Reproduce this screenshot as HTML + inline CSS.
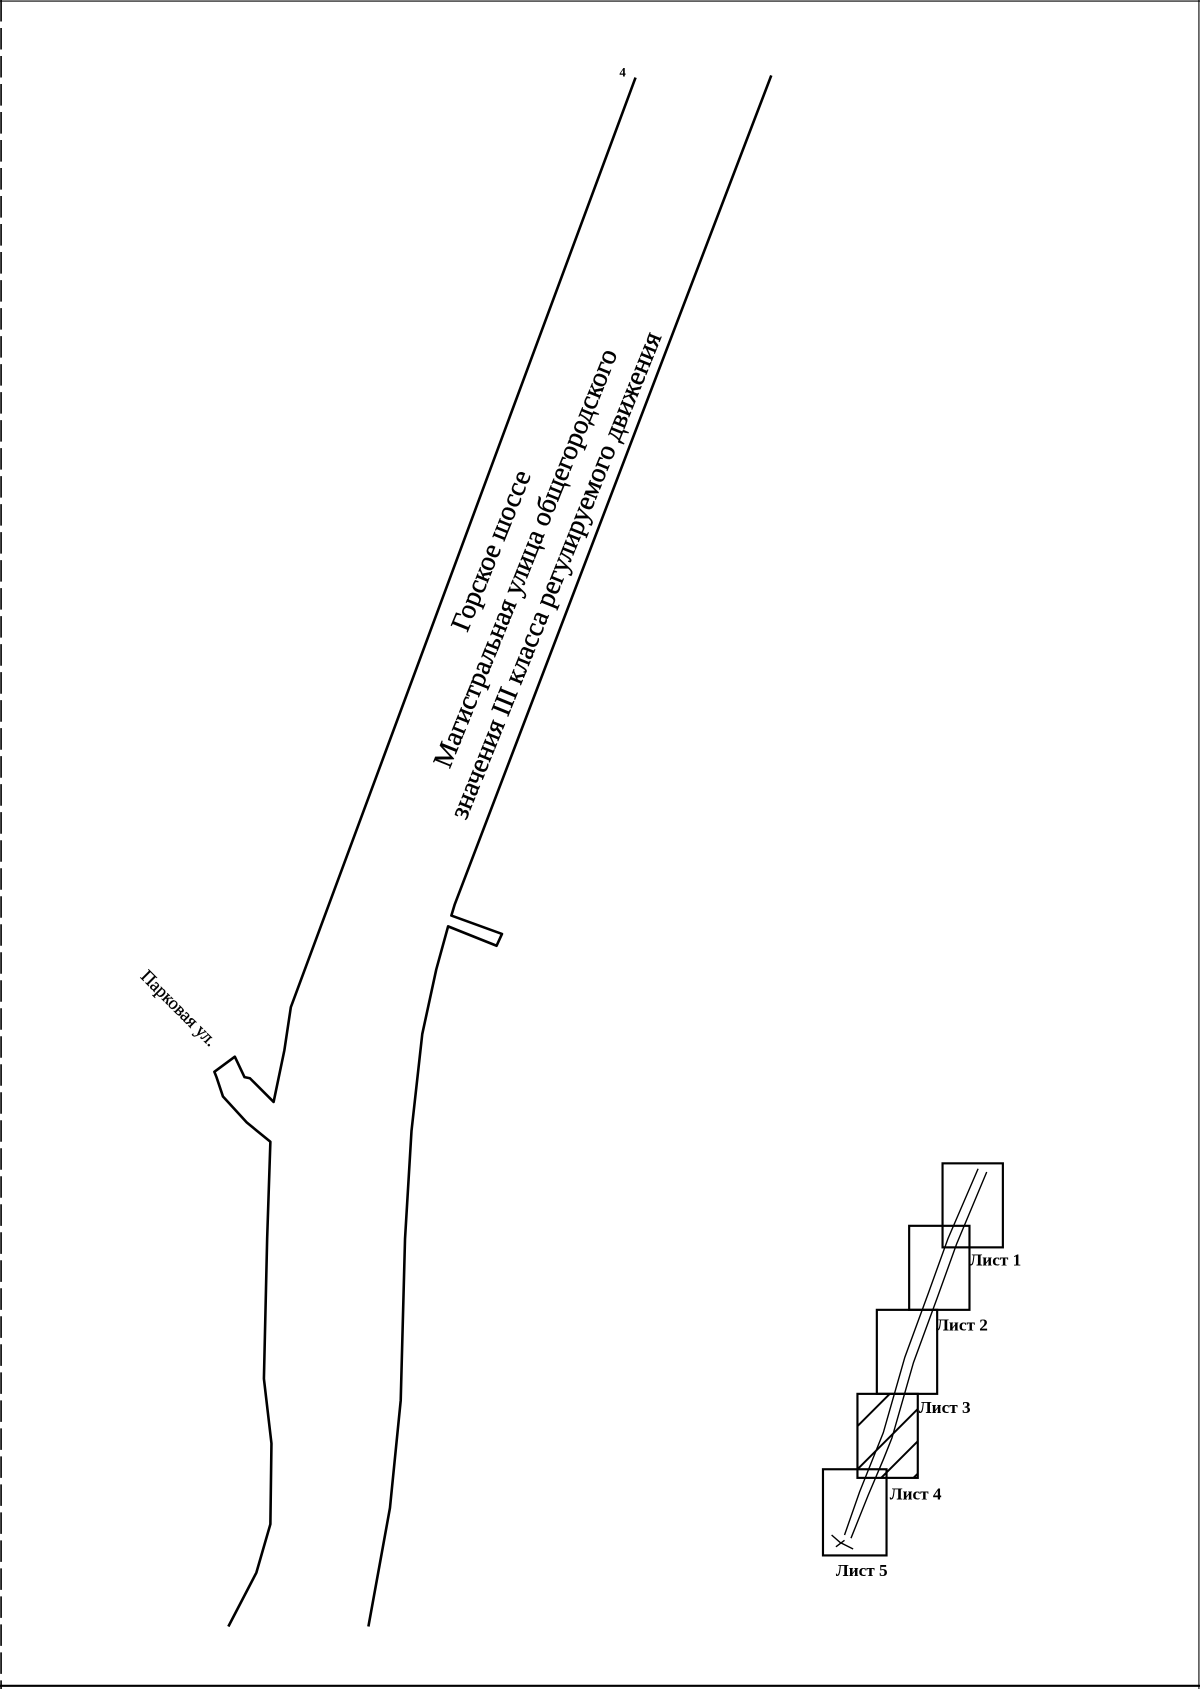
<!DOCTYPE html>
<html><head><meta charset="utf-8"><style>
html,body{margin:0;padding:0;background:#fff;}
svg{display:block;}
text{font-family:"Liberation Serif","DejaVu Serif",serif;fill:#000;}
</style></head><body>
<svg width="1200" height="1689" viewBox="0 0 1114 1568" preserveAspectRatio="none" xmlns="http://www.w3.org/2000/svg">
<rect x="0" y="0" width="1114" height="1568" fill="#fff"/>
<line x1="1" y1="0" x2="1" y2="1568" stroke="#000" stroke-width="1.5" stroke-dasharray="20 6"/>
<line x1="0" y1="1565" x2="1114" y2="1565" stroke="#000" stroke-width="2"/>
<line x1="0" y1="1" x2="1114" y2="1" stroke="#000" stroke-width="1"/>
<line x1="1113" y1="0" x2="1113" y2="1568" stroke="#000" stroke-width="1"/>
<g fill="none" stroke="#000" stroke-width="2.4" stroke-linejoin="round">
<polyline points="590,72 270,935 264,975 254,1023 232,1001 227,1000 218,981 199,995 201,1000 206,1015 207,1018 229,1042 251,1060 248,1150 245,1280 252,1340 251,1415 238,1460 212,1510"/>
<polyline points="716,70 422,840 419,850 466,867 461,878 416,860 405,900 392,960 382,1050 376,1150 372,1300 362,1400 342,1510"/>
</g>
<text x="575" y="71" font-size="12" font-weight="bold">4</text>
<g font-size="25.5" stroke="#000" stroke-width="0.4">
<text transform="translate(458,512) rotate(-68)" text-anchor="middle" dominant-baseline="middle">Горское шоссе</text>
<text transform="translate(490,519) rotate(-68)" text-anchor="middle" dominant-baseline="middle">Магистральная улица общегородского</text>
<text transform="translate(518,535) rotate(-68)" text-anchor="middle" dominant-baseline="middle">значения III класса регулируемого движения</text>
</g>
<text transform="translate(165,937) rotate(45)" text-anchor="middle" dominant-baseline="middle" font-size="17" stroke="#000" stroke-width="0.3">Парковая ул.</text>
<defs><clipPath id="c4"><rect x="796" y="1294" width="56" height="78"/></clipPath></defs>
<g fill="none" stroke="#000" stroke-width="2">
<rect x="875" y="1080" width="56" height="78"/>
<rect x="844" y="1138" width="56" height="78"/>
<rect x="814" y="1216" width="56" height="78"/>
<rect x="796" y="1294" width="56" height="78"/>
<rect x="764" y="1364" width="59" height="80"/>
<g clip-path="url(#c4)" stroke-width="1.8">
<line x1="780" y1="1340" x2="840" y2="1280"/>
<line x1="780" y1="1380" x2="870" y2="1290"/>
<line x1="800" y1="1390" x2="870" y2="1320"/>
<line x1="820" y1="1400" x2="870" y2="1350"/>
</g>
</g>
<g fill="none" stroke="#000" stroke-width="1.3">
<polyline points="908,1085 880,1150 862,1200 840,1260 820,1330 812,1350 798,1385 784,1425"/>
<polyline points="916,1088 888,1155 870,1205 848,1265 828,1335 820,1355 806,1388 790,1428"/>
<path d="M772,1425 L780,1432 L792,1438 M776,1436 L784,1430"/>
</g>
<g font-size="16" font-weight="bold">
<text x="900" y="1175">Лист 1</text>
<text x="869" y="1235">Лист 2</text>
<text x="853" y="1312">Лист 3</text>
<text x="826" y="1392">Лист 4</text>
<text x="776" y="1463">Лист 5</text>
</g>
</svg>
</body></html>
